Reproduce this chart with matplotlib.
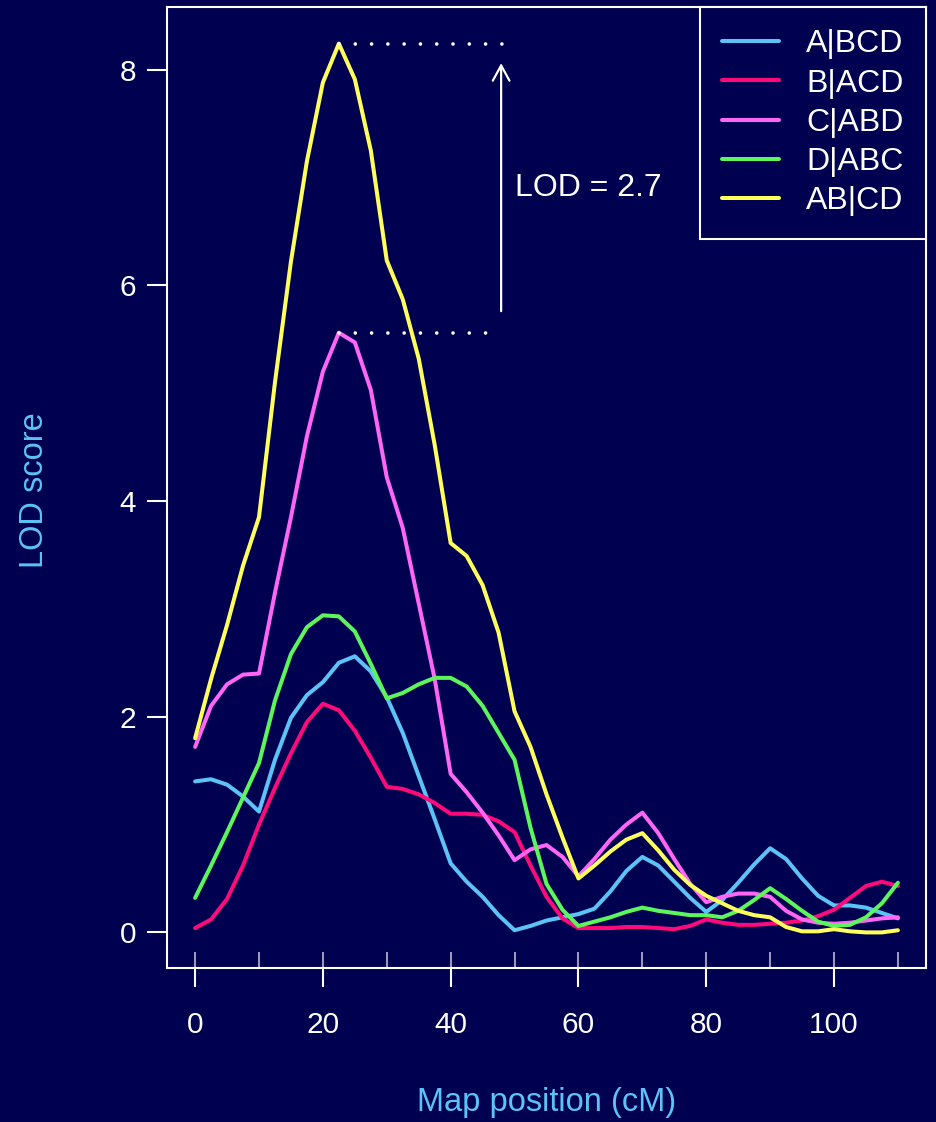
import numpy as np
import matplotlib
matplotlib.use("Agg")
import matplotlib.pyplot as plt
from matplotlib.ticker import FixedLocator

# ── data: LOD profiles along the chromosome (2.5 cM grid) ──────────────────
pos = [0, 2.5, 5, 7.5, 10, 12.5, 15, 17.5, 20, 22.5, 25, 27.5, 30, 32.5, 35,
       37.5, 40, 42.5, 45, 47.5, 50, 52.5, 55, 57.5, 60, 62.5, 65, 67.5, 70,
       72.5, 75, 77.5, 80, 82.5, 85, 87.5, 90, 92.5, 95, 97.5, 100, 102.5,
       105, 107.5, 110]

lod_a_bcd = [1.40, 1.42, 1.37, 1.26, 1.12, 1.60, 1.99, 2.20, 2.32, 2.50, 2.56,
             2.42, 2.18, 1.85, 1.45, 1.05, 0.64, 0.47, 0.33, 0.16, 0.02, 0.06,
             0.11, 0.14, 0.17, 0.22, 0.38, 0.57, 0.70, 0.62, 0.47, 0.32, 0.19,
             0.30, 0.46, 0.63, 0.78, 0.68, 0.50, 0.34, 0.25, 0.25, 0.23, 0.18,
             0.13]
lod_b_acd = [0.04, 0.12, 0.31, 0.62, 1.00, 1.34, 1.66, 1.95, 2.12, 2.06, 1.87,
             1.62, 1.35, 1.33, 1.28, 1.20, 1.10, 1.10, 1.09, 1.03, 0.93, 0.62,
             0.33, 0.13, 0.04, 0.04, 0.04, 0.05, 0.05, 0.04, 0.03, 0.06, 0.12,
             0.09, 0.07, 0.07, 0.08, 0.09, 0.11, 0.15, 0.21, 0.32, 0.43, 0.47,
             0.43]
lod_c_abd = [1.72, 2.10, 2.30, 2.39, 2.40, 3.15, 3.85, 4.60, 5.20, 5.56, 5.47,
             5.03, 4.22, 3.75, 3.05, 2.35, 1.47, 1.30, 1.11, 0.90, 0.67, 0.77,
             0.81, 0.70, 0.52, 0.68, 0.86, 1.00, 1.11, 0.92, 0.68, 0.45, 0.28,
             0.33, 0.36, 0.36, 0.33, 0.20, 0.12, 0.09, 0.08, 0.09, 0.11, 0.13,
             0.14]
lod_d_abc = [0.32, 0.62, 0.93, 1.25, 1.57, 2.15, 2.58, 2.83, 2.94, 2.93, 2.79,
             2.49, 2.17, 2.22, 2.30, 2.36, 2.36, 2.28, 2.10, 1.85, 1.60, 0.97,
             0.45, 0.21, 0.06, 0.10, 0.14, 0.19, 0.23, 0.20, 0.18, 0.16, 0.16,
             0.14, 0.20, 0.30, 0.41, 0.31, 0.20, 0.10, 0.06, 0.07, 0.14, 0.27,
             0.46]
lod_ab_cd = [1.80, 2.35, 2.85, 3.40, 3.85, 5.10, 6.22, 7.15, 7.88, 8.24, 7.91,
             7.25, 6.23, 5.87, 5.32, 4.52, 3.61, 3.49, 3.22, 2.78, 2.05, 1.72,
             1.28, 0.88, 0.50, 0.62, 0.75, 0.86, 0.92, 0.76, 0.58, 0.44, 0.34,
             0.27, 0.20, 0.16, 0.14, 0.05, 0.01, 0.01, 0.03, 0.01, 0.00, 0.00,
             0.02]

labels = ["A|BCD", "B|ACD", "C|ABD", "D|ABC", "AB|CD"]
series = [lod_a_bcd, lod_b_acd, lod_c_abd, lod_d_abc, lod_ab_cd]
colors = ["#5CC3F7", "#FF0A7A", "#FF66F5", "#5CF55C", "#FFFF5C"]

markers_cm = [0, 10, 20, 30, 40, 50, 60, 70, 80, 90, 100, 110]

# ── style ──────────────────────────────────────────────────────────────────
bg = "#000050"
label_blue = "#5CC3F7"
plt.rcParams["font.family"] = ["Liberation Sans", "DejaVu Sans"]
fs_tick = 21.5
fs = 23

fig = plt.figure(figsize=(9.36, 11.22), dpi=100, facecolor=bg)
ax = fig.add_axes([167 / 936, 154 / 1122, 759 / 936, 961 / 1122])
ax.set_facecolor(bg)

for lod, lab, col in zip(series, labels, colors):
    ax.plot(pos, lod, color=col, lw=2.9, label=lab,
            solid_joinstyle="round", solid_capstyle="round")

ax.set_xlim(-4.4, 114.4)
ax.set_ylim(-0.33, 8.58)

# ── peak annotation: difference between the two best models ──────────────
i_top = int(np.argmax(lod_ab_cd))
i_low = int(np.argmax(lod_c_abd))
top, low = lod_ab_cd[i_top], lod_c_abd[i_low]
arrow_x = 47.9
dots = dict(color="white", lw=2.6, linestyle=(0, (0.01, 4.5)),
            dash_capstyle="round")
ax.plot([pos[i_top], 48.2], [top, top], **dots)
ax.plot([pos[i_low], 46.0], [low, low], **dots)
ax.annotate("", xy=(arrow_x, top - 0.18), xytext=(arrow_x, low + 0.2),
            arrowprops=dict(arrowstyle="->,head_length=0.55,head_width=0.3",
                            color="white", lw=1.6, mutation_scale=20,
                            shrinkA=0, shrinkB=0))
ax.text(50.1, 6.9, f"LOD = {top - low:.1f}", color="white", fontsize=fs,
        ha="left", va="center")

# ── axes ───────────────────────────────────────────────────────────────────
for sp in ax.spines.values():
    sp.set_color("white")
    sp.set_linewidth(1.5)

ax.set_xticks([0, 20, 40, 60, 80, 100])
ax.set_yticks([0, 2, 4, 6, 8])
ax.xaxis.set_minor_locator(FixedLocator(markers_cm))
ax.xaxis.remove_overlapping_locs = False
ax.tick_params(axis="x", which="major", direction="out", length=13.7,
               width=1.5, colors="white", labelsize=fs_tick, pad=17)
ax.tick_params(axis="y", which="major", direction="out", length=14.4,
               width=1.5, colors="white", labelsize=fs_tick, pad=8)
ax.tick_params(axis="x", which="minor", direction="in", length=11.5,
               width=1.5, color="#9A9AB8")

fig.text(35 / 936, 1 - 490 / 1122, "LOD score", rotation=90, color=label_blue,
         fontsize=fs + 0.5, ha="center", va="center")
fig.text(547 / 936, 1 - 1103 / 1122, "Map position (cM)", color=label_blue,
         fontsize=fs + 0.5, ha="center", va="center")

leg = ax.legend(loc="upper right", frameon=True, fancybox=False,
                edgecolor="white", facecolor=bg, framealpha=1, fontsize=fs,
                handlelength=1.8, handletextpad=0.84, borderpad=0.7,
                labelspacing=0.29, borderaxespad=0, labelcolor="white")
leg.get_frame().set_linewidth(1.5)

fig.savefig("out.png", dpi=100, facecolor=bg)
